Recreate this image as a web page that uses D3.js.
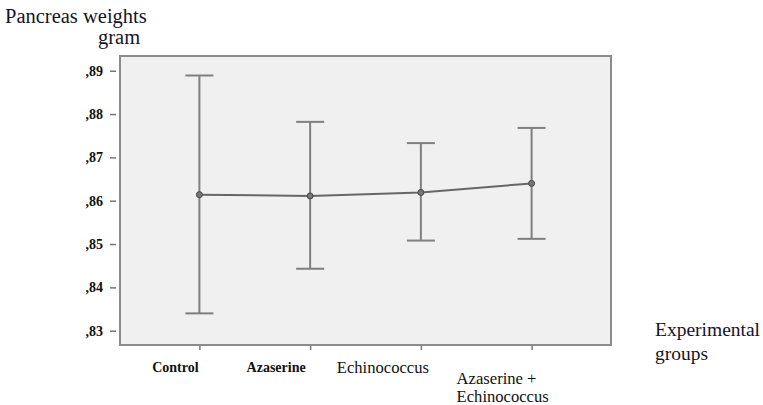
<!DOCTYPE html>
<html><head><meta charset="utf-8">
<script src="https://cdn.jsdelivr.net/npm/d3@7/dist/d3.min.js"></script>
<style>body{margin:0;background:#fff}svg{display:block}</style>
</head><body>
<script>
const categories = ["Control", "Azaserine", "Echinococcus", "Azaserine +\nEchinococcus"];
const means = [0.8614, 0.8611, 0.8619, 0.8640];
const upper = [0.8889, 0.8782, 0.8733, 0.8768];
const lower = [0.8340, 0.8443, 0.8508, 0.8512];
const yTicks = [0.83, 0.84, 0.85, 0.86, 0.87, 0.88, 0.89];

const W = 763, H = 405;
const svg = d3.select("body").append("svg").attr("width", W).attr("height", H);
const L = 120, T = 56, R = 611, B = 345;
const font = "'Liberation Serif','Times New Roman',serif";
const labelStyle = [
  {bold: true, size: 14, dx: -24, y: 372},
  {bold: true, size: 14, dx: -34, y: 372},
  {bold: false, size: 16.6, dx: -38, y: 373},
  {bold: false, size: 16.6, dx: -75, y: 384}
];

const x = d3.scalePoint().domain(categories).range([L, R]).padding(0.717);
const y = d3.scaleLinear().domain([0.8267, 0.8934]).range([B, T]);

svg.append("rect").attr("x", L).attr("y", T).attr("width", R - L).attr("height", B - T)
  .attr("fill", "#f0f0f0").attr("stroke", "#8c8c8c").attr("stroke-width", 2);

// y axis
const fmt = v => d3.format(".2f")(v).replace(/^0/, "").replace(".", ",");
const ya = svg.append("g").attr("transform", `translate(${L - 4},0)`)
  .call(d3.axisLeft(y).tickValues(yTicks).tickFormat(fmt).tickSize(6).tickPadding(7));
ya.select(".domain").remove();
ya.selectAll(".tick line").attr("stroke", "#777").attr("stroke-width", 1.5);
ya.selectAll(".tick text").attr("font-family", font).attr("font-size", 14)
  .attr("font-weight", "bold").attr("fill", "#111");

// x axis ticks
const xa = svg.append("g").attr("transform", `translate(0,${B + 1})`)
  .call(d3.axisBottom(x).tickSize(4).tickFormat(""));
xa.select(".domain").remove();
xa.selectAll(".tick line").attr("stroke", "#777").attr("stroke-width", 1.5);

// x labels
categories.forEach((c, i) => {
  const s = labelStyle[i];
  const lines = c.split("\n");
  lines.forEach((ln, j) => {
    svg.append("text").attr("font-family", font).attr("fill", "#111")
      .attr("font-size", s.size).attr("font-weight", s.bold ? "bold" : "normal")
      .attr("text-anchor", lines.length === 1 ? "middle" : "start")
      .attr("x", x(c) + s.dx).attr("y", s.y + j * 18).text(ln);
  });
});

// error bars
const cap = 14;
categories.forEach((c, i) => {
  const g = svg.append("g").attr("stroke", "#7f7f7f").attr("stroke-width", 2);
  g.append("line").attr("x1", x(c)).attr("x2", x(c)).attr("y1", y(upper[i])).attr("y2", y(lower[i]));
  g.append("line").attr("x1", x(c) - cap).attr("x2", x(c) + cap).attr("y1", y(upper[i])).attr("y2", y(upper[i]));
  g.append("line").attr("x1", x(c) - cap).attr("x2", x(c) + cap).attr("y1", y(lower[i])).attr("y2", y(lower[i]));
});

// mean line
svg.append("path").datum(means)
  .attr("d", d3.line().x((d, i) => x(categories[i])).y(d => y(d)))
  .attr("fill", "none").attr("stroke", "#666").attr("stroke-width", 2);
svg.selectAll("circle.m").data(means).enter().append("circle")
  .attr("cx", (d, i) => x(categories[i])).attr("cy", d => y(d)).attr("r", 3)
  .attr("fill", "#777").attr("stroke", "#444").attr("stroke-width", 1);

// titles
svg.append("text").attr("x", 5).attr("y", 23).attr("font-family", font).attr("font-size", 20.5)
  .attr("fill", "#141428").text("Pancreas weights");
svg.append("text").attr("x", 98).attr("y", 44).attr("font-family", font).attr("font-size", 20.5)
  .attr("fill", "#141428").text("gram");
svg.append("text").attr("x", 655).attr("y", 336).attr("font-family", font).attr("font-size", 19.5)
  .attr("fill", "#141428").text("Experimental");
svg.append("text").attr("x", 655).attr("y", 360).attr("font-family", font).attr("font-size", 19.5)
  .attr("fill", "#141428").text("groups");
</script>
</body></html>
